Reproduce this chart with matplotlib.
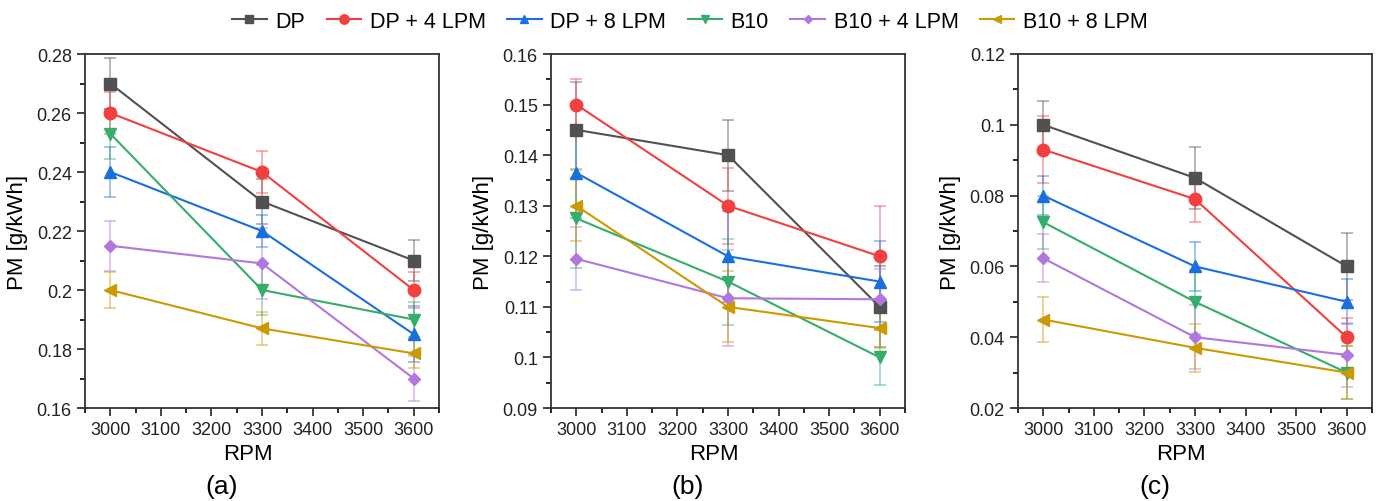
import matplotlib
matplotlib.use('Agg')
import matplotlib.pyplot as plt
from matplotlib.ticker import MultipleLocator, AutoMinorLocator

plt.rcParams['font.family'] = ['Liberation Sans', 'DejaVu Sans']

rpm = [3000, 3300, 3600]
names = ['DP', 'DP + 4 LPM', 'DP + 8 LPM', 'B10', 'B10 + 4 LPM', 'B10 + 8 LPM']
colors = ['#515151', '#F14040', '#1A6FDF', '#37AD6B', '#B177DE', '#CC9900']
markers = ['s', 'o', '^', 'v', 'D', '<']
msizes = [8, 9, 8, 8, 6, 8]

# panel (a)
pm_a = [[0.270, 0.230, 0.210],
        [0.260, 0.240, 0.200],
        [0.240, 0.220, 0.185],
        [0.253, 0.200, 0.190],
        [0.215, 0.209, 0.170],
        [0.200, 0.187, 0.1785]]
err_a = [[0.0085, 0.0075, 0.007],
         [0.007, 0.007, 0.006],
         [0.0085, 0.0055, 0.0095],
         [0.0085, 0.0085, 0.006],
         [0.0085, 0.012, 0.0075],
         [0.006, 0.0055, 0.005]]

# panel (b)
pm_b = [[0.145, 0.140, 0.110],
        [0.150, 0.130, 0.120],
        [0.1365, 0.120, 0.115],
        [0.1275, 0.115, 0.100],
        [0.1195, 0.1117, 0.1115],
        [0.130, 0.110, 0.1058]]
err_b = [[0.0095, 0.007, 0.008],
         [0.005, 0.0075, 0.010],
         [0.009, 0.009, 0.008],
         [0.0098, 0.0085, 0.0055],
         [0.0062, 0.0095, 0.006],
         [0.007, 0.007, 0.004]]

# panel (c)
pm_c = [[0.100, 0.085, 0.060],
        [0.093, 0.079, 0.040],
        [0.080, 0.060, 0.050],
        [0.0725, 0.050, 0.030],
        [0.0623, 0.040, 0.035],
        [0.045, 0.037, 0.030]]
err_c = [[0.0068, 0.0088, 0.0095],
         [0.0095, 0.0065, 0.0055],
         [0.0055, 0.007, 0.0063],
         [0.0075, 0.009, 0.0075],
         [0.0068, 0.009, 0.009],
         [0.0063, 0.0068, 0.0075]]

ylims = [(0.16, 0.28, 0.02), (0.09, 0.16, 0.01), (0.02, 0.12, 0.02)]
panel_labels = ['(a)', '(b)', '(c)']
lefts = [85, 551, 1018]


def fmt(v):
    # Origin style labels: 0.2, 0.1 without trailing zero
    s = '%.2f' % v
    s = s.rstrip('0')
    return s


fig = plt.figure(figsize=(13.8, 5.02), dpi=100)
W, H = 1380, 502

handles = []
for k, (pm, err) in enumerate([(pm_a, err_a), (pm_b, err_b), (pm_c, err_c)]):
    ax = fig.add_axes([lefts[k] / W, 1 - 409 / H, 354 / W, 354 / H])
    for i in range(6):
        ax.errorbar(rpm, pm[i], yerr=err[i], fmt='none', ecolor=colors[i],
                    alpha=0.45, elinewidth=1.3, capsize=4, capthick=1.3, zorder=2)
        h, = ax.plot(rpm, pm[i], color=colors[i], marker=markers[i],
                     markersize=msizes[i], linewidth=1.5, zorder=3, label=names[i])
        if k == 0:
            handles.append(h)
    lo, hi, st = ylims[k]
    ax.set_ylim(lo, hi)
    ax.set_xlim(2950, 3650)
    yt = [lo + st * j for j in range(int(round((hi - lo) / st)) + 1)]
    ax.set_yticks(yt)
    ax.set_yticklabels([fmt(v) for v in yt])
    ax.set_xticks(range(3000, 3601, 100))
    ax.xaxis.set_minor_locator(MultipleLocator(50))
    ax.yaxis.set_minor_locator(AutoMinorLocator(2))
    ax.tick_params(which='major', direction='out', length=6, width=1.2, labelsize=13, colors='#222222')
    ax.tick_params(which='minor', direction='out', length=3.5, width=1.2)
    for sp in ax.spines.values():
        sp.set_linewidth(1.3)
        sp.set_color('#333333')
    ax.set_ylabel('PM [g/kWh]', fontsize=16, labelpad=6)
    ax.set_xlabel('RPM', fontsize=16, labelpad=3)
    ax.xaxis.set_label_coords(0.46, -0.1)
    fig.text((lefts[k] + 137) / W, 1 - 487 / H, panel_labels[k], fontsize=19,
             ha='center', va='center')

fig.legend(handles=handles, loc='center', bbox_to_anchor=(0.5, 1 - 22 / H), ncol=6,
           frameon=False, fontsize=15.5, handlelength=1.6, handletextpad=0.4,
           columnspacing=1.0, markerscale=0.75)

fig.savefig('out.png', dpi=100)
